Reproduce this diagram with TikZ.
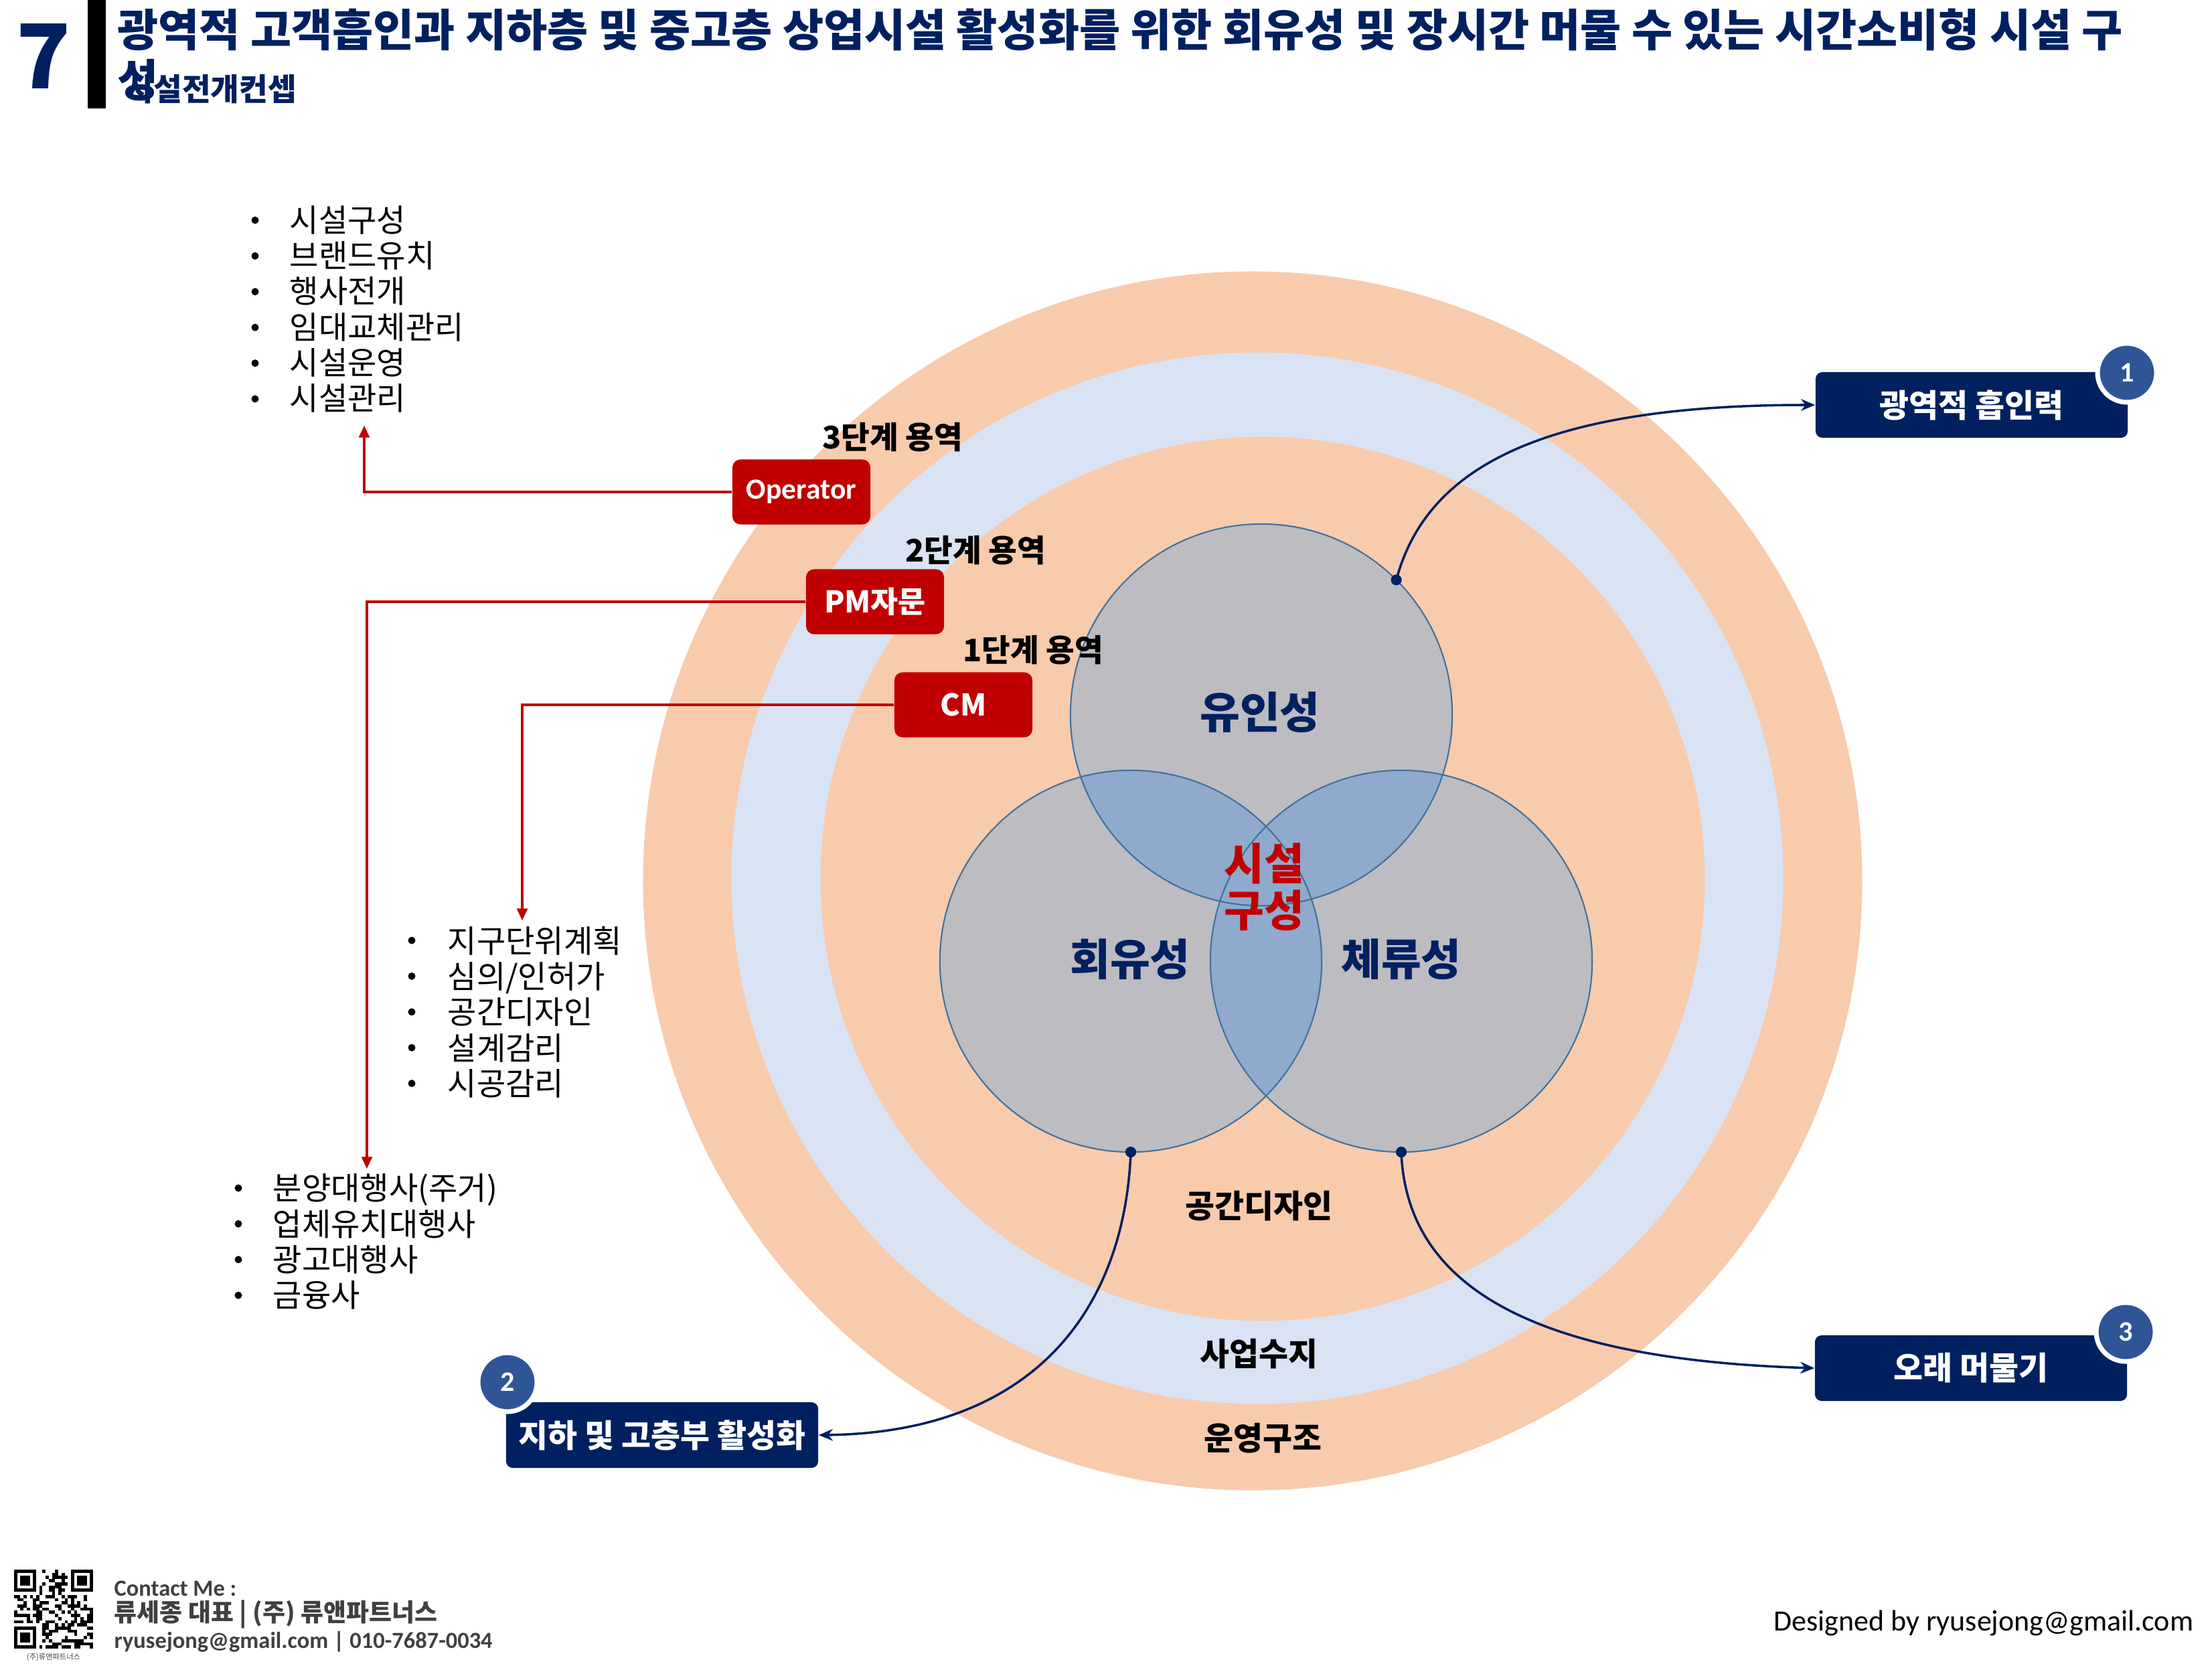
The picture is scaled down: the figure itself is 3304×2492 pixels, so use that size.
\documentclass[tikz,border=0pt]{standalone}
\usepackage{fontspec}
\setmainfont{Noto Sans CJK KR}
\newfontfamily\calfont{Carlito}
\usetikzlibrary{arrows.meta,calc}
\definecolor{navy}{HTML}{002060}
\definecolor{ringor}{HTML}{F8CBAD}
\definecolor{ringbl}{HTML}{DAE3F3}
\definecolor{vgrey}{RGB}{188,188,193}
\definecolor{vlens}{RGB}{143,170,204}
\definecolor{vline}{HTML}{41719C}
\definecolor{dred}{HTML}{C00000}
\definecolor{numblue}{HTML}{2F5597}
\definecolor{cgrey}{HTML}{404040}
\begin{document}
\begin{tikzpicture}[x=0.01cm,y=-0.01cm,
  navybox/.style={fill=navy, rounded corners=0.1cm, minimum width=4.66cm, minimum height=0.98cm, inner sep=0, text=white, font=\bfseries\fontsize{13.6}{16}\selectfont},
  redbox/.style={fill=dred, rounded corners=0.12cm, minimum width=2.06cm, minimum height=0.97cm, inner sep=0, text=white, font=\bfseries\fontsize{12.7}{15}\selectfont},
  numcirc/.style={circle, fill=numblue, draw=white, line width=2pt, minimum size=0.88cm, inner sep=0, text=white, font=\calfont\bfseries\fontsize{12}{14}\selectfont},
  listtext/.style={anchor=west, align=left, inner sep=0, font=\fontsize{13.4}{15.14}\selectfont},
  stagelab/.style={inner sep=0, font=\bfseries\fontsize{13.2}{15}\selectfont},
  ringlab/.style={inner sep=0, font=\bfseries\fontsize{13.6}{16}\selectfont},
  venlab/.style={inner sep=0, text=navy, font=\bfseries\fontsize{18.5}{20.1}\selectfont},
  redarrow/.style={draw=dred, line width=0.9pt, -{Triangle[length=5pt,width=4.5pt]}},
  navyarrow/.style={draw=navy, line width=1pt, -{Stealth[length=6pt,width=5pt]}},
  vcirc/.style={draw=vline, line width=0.6pt},
  contact/.style={anchor=west, inner sep=0, text=cgrey}
]
\useasboundingbox (0,0) rectangle (3304,2492);

% ---------- header ----------
\fill[black] (131,0) rectangle (158,162);
\node[inner sep=0, text=navy, font=\bfseries\fontsize{38}{42}\selectfont] (num7) at (65,84) {7};
\node[anchor=west, inner sep=0, text=navy, font=\bfseries\fontsize{18.9}{22}\selectfont] (title1) at (175,44)
  {광역적 고객흡인과 지하층 및 중고층 상업시설 활성화를 위한 회유성 및 장시간 머물 수 있는 시간소비형 시설 구};
\node[anchor=west, inner sep=0, text=navy, font=\bfseries\fontsize{18.9}{22}\selectfont] (title2) at (175,120) {성};
\node[anchor=west, inner sep=0, text=navy, font=\bfseries\fontsize{13.2}{15}\selectfont] (subtitle) at (186,133) {시설전개컨셉};

% ---------- rings ----------
\coordinate (cen1) at (1871,1316);
\coordinate (cen2) at (1878,1312);
\coordinate (cen3) at (1886,1313);
\fill[ringor] (cen1) circle[radius=9.1cm];
\fill[ringbl] (cen2) circle[radius=7.85cm];
\fill[ringor] (cen3) circle[radius=6.6cm];

% ---------- venn ----------
\coordinate (vt) at (1884,1068);
\coordinate (vl) at (1689,1436);
\coordinate (vr) at (2093,1436);
\fill[vgrey] (vt) circle[radius=2.85cm];
\fill[vgrey] (vl) circle[radius=2.85cm];
\fill[vgrey] (vr) circle[radius=2.85cm];
\begin{scope}
  \clip (vt) circle[radius=2.85cm];
  \fill[vlens] (vl) circle[radius=2.85cm];
  \fill[vlens] (vr) circle[radius=2.85cm];
\end{scope}
\begin{scope}
  \clip (vl) circle[radius=2.85cm];
  \fill[vlens] (vr) circle[radius=2.85cm];
\end{scope}
\draw[vcirc] (vt) circle[radius=2.85cm];
\draw[vcirc] (vl) circle[radius=2.85cm];
\draw[vcirc] (vr) circle[radius=2.85cm];

\node[venlab] (yuin) at (1882,1064) {유인성};
\node[venlab] (hoeyu) at (1688,1433) {회유성};
\node[venlab] (cheryu) at (2093,1433) {체류성};
\node[venlab, text=dred, align=center] (core) at (1888,1325) {시설\\구성};

\node[ringlab] (rl1) at (1880,1802) {공간디자인};
\node[ringlab] (rl2) at (1880,2023) {사업수지};
\node[ringlab] (rl3) at (1886,2149) {운영구조};

% ---------- stage labels & red boxes ----------
\node[stagelab] (s3) at (1333,653) {3단계 용역};
\node[stagelab] (s2) at (1457,822) {2단계 용역};
\node[stagelab] (s1) at (1543,971) {1단계 용역};
\node[redbox, font=\calfont\bfseries\fontsize{12.4}{15}\selectfont] (op) at (1197,735) {Operator};
\node[redbox] (pm) at (1307,899) {PM자문};
\node[redbox] (cm) at (1439,1053) {CM};

% ---------- lists ----------
\node[listtext] (list1) at (432,462) {시설구성\\브랜드유치\\행사전개\\임대교체관리\\시설운영\\시설관리};
\foreach \k in {0,...,5} \fill (381,{329+53.4*\k}) circle[radius=0.055cm];
\node[listtext] (list2) at (668,1512) {지구단위계획\\심의/인허가\\공간디자인\\설계감리\\시공감리};
\foreach \k in {0,...,4} \fill (615,{1405+53.4*\k}) circle[radius=0.055cm];
\node[listtext] (list3) at (407,1855) {분양대행사(주거)\\업체유치대행사\\광고대행사\\금융사};
\foreach \k in {0,...,3} \fill (356,{1775+53.4*\k}) circle[radius=0.055cm];

\coordinate (a1) at (544,636);
\coordinate (a2) at (548,1746);
\coordinate (a3) at (780,1375);
\draw[redarrow] (op.west) -- (a1 |- op.west) -- (a1);
\draw[redarrow] (pm.west) -- (a2 |- pm.west) -- (a2);
\draw[redarrow] (cm.west) -- (a3 |- cm.west) -- (a3);

% ---------- navy boxes ----------
\node[navybox] (b1) at (2945,605) {광역적 흡인력};
\node[navybox] (b3) at (2944,2044) {오래 머물기};
\node[navybox] (b2) at (989,2144) {지하 및 고층부 활성화};
\node[numcirc] (n1) at (3177,557) {1};
\node[numcirc] (n3) at (3175,1990) {3};
\node[numcirc] (n2) at (758,2065) {2};

\coordinate (d1) at ($(vt)+(45:2.85cm)$);
\coordinate (d2) at ($(vl)+(-90:2.85cm)$);
\coordinate (d3) at ($(vr)+(-90:2.85cm)$);
\draw[navyarrow] (d1) .. controls (2130,700) and (2300,605) .. (b1.west);
\draw[navyarrow] (d2) .. controls (1680,1950) and (1550,2140) .. (b2.east);
\draw[navyarrow] (d3) .. controls (2100,1900) and (2250,2030) .. (b3.west);
\fill[navy] (d1) circle[radius=2.3pt];
\fill[navy] (d2) circle[radius=2.3pt];
\fill[navy] (d3) circle[radius=2.3pt];

% ---------- footer ----------
\begin{scope}[shift={(21,2345)}]
  \pgfmathsetseed{4711}
  \foreach \i in {0,...,24}{
    \foreach \j in {0,...,24}{
      \pgfmathtruncatemacro\q{(((\i<8)&&(\j<8))||((\i>16)&&(\j<8))||((\i<8)&&(\j>16))) ? 0 : (rnd<0.5 ? 1 : 0)}
      \ifnum\q>0 \fill ({\i*4.72},{\j*4.72}) rectangle ++(4.72,4.72); \fi
    }
  }
  \foreach \fx/\fy in {0/0,18/0,0/18}{
    \fill ({\fx*4.72},{\fy*4.72}) rectangle ++(33.04,33.04);
    \fill[white] ({(\fx+1)*4.72},{(\fy+1)*4.72}) rectangle ++(23.6,23.6);
    \fill ({(\fx+2)*4.72},{(\fy+2)*4.72}) rectangle ++(14.16,14.16);
  }
\end{scope}
\node[inner sep=0, text=cgrey, font=\fontsize{3.2}{4}\selectfont] (qrcap) at (80,2476) {(주)류앤파트너스};
\node[contact, font=\calfont\bfseries\fontsize{9.8}{12}\selectfont] (c1) at (170,2373) {Contact Me :};
\node[contact, font=\bfseries\fontsize{10.5}{12}\selectfont] (c2) at (170,2412) {류세종 대표 | (주) 류앤파트너스};
\node[contact, font=\calfont\bfseries\fontsize{9.8}{12}\selectfont] (c3) at (170,2453) {ryusejong@gmail.com | 010-7687-0034};
\node[anchor=east, inner sep=0, font=\calfont\fontsize{12.5}{15}\selectfont] (designed) at (3277,2425) {Designed by ryusejong@gmail.com};
\end{tikzpicture}
\end{document}
